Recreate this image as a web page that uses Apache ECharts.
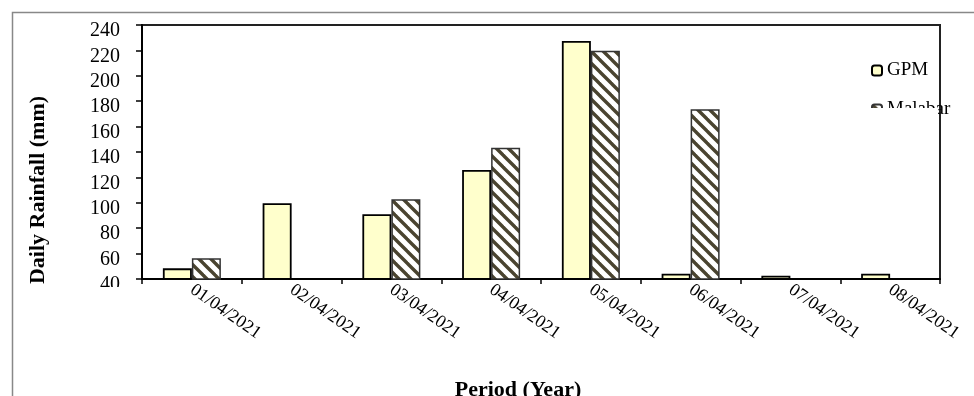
<!DOCTYPE html>
<html>
<head>
<meta charset="utf-8">
<script src="https://cdn.jsdelivr.net/npm/echarts@6/dist/echarts.min.js"></script>
<style>
html,body{margin:0;padding:0;background:#fff;}
#c{width:974px;height:396px;}
</style>
</head>
<body>
<div id="c"></div>
<script>
const categories = ['01/04/2021','02/04/2021','03/04/2021','04/04/2021','05/04/2021','06/04/2021','07/04/2021','08/04/2021'];
const gpm = [48.4, 99.7, 91, 125.8, 227.4, 44.2, 42.6, 44.2];
const malabar = [56.3, '-', 102.8, 143.4, 219.8, 173.6, '-', '-'];
const yTicks = {min: 40, max: 240, interval: 20};

function hatch() {
  const s = 12;
  const cv = document.createElement('canvas');
  cv.width = s; cv.height = s;
  const g = cv.getContext('2d');
  g.fillStyle = '#ffffff';
  g.fillRect(0, 0, s, s);
  g.strokeStyle = '#4a4430';
  g.lineWidth = 3.4;
  g.lineCap = 'square';
  for (const k of [-s, 0, s]) {
    g.beginPath();
    g.moveTo(k - 2, -2);
    g.lineTo(k + s + 2, s + 2);
    g.stroke();
  }
  return cv;
}

const serif = '"Liberation Serif", "Times New Roman", serif';
const chart = echarts.init(document.getElementById('c'), null, {renderer: 'canvas'});
chart.setOption({
  animation: false,
  backgroundColor: '#fff',
  grid: {left: 142, right: 34, top: 25, bottom: 117, outerBoundsMode: 'none', containLabel: false,
         show: true, borderColor: '#222', borderWidth: 2, backgroundColor: 'transparent'},
  legend: {
    orient: 'vertical', left: 866, top: 56, itemWidth: 10, itemHeight: 10, itemGap: 20,
    textStyle: {fontFamily: serif, fontSize: 19, color: '#000'},
    data: ['GPM', 'Malabar']
  },
  xAxis: {
    type: 'category', data: categories,
    axisLine: {lineStyle: {color: '#000', width: 2}},
    axisTick: {show: true, alignWithLabel: false, length: 5, lineStyle: {color: '#000', width: 1.5}},
    axisLabel: {rotate: -35, fontFamily: serif, fontSize: 18, color: '#000', margin: 9, interval: 0},
    name: 'Period (Year)', nameLocation: 'middle', nameGap: 100,
    nameTextStyle: {fontFamily: serif, fontSize: 22, fontWeight: 'bold', color: '#000', padding: [0, 46, 0, 0]}
  },
  yAxis: {
    type: 'value', min: yTicks.min, max: yTicks.max, interval: yTicks.interval,
    splitLine: {show: false},
    axisLine: {show: true, lineStyle: {color: '#000', width: 2}},
    axisTick: {show: true, length: 6, lineStyle: {color: '#000', width: 1.5}},
    axisLabel: {fontFamily: serif, fontSize: 20, color: '#000', margin: 22, verticalAlign: 'top', lineHeight: 12},
    name: 'Daily Rainfall (mm)', nameLocation: 'middle', nameGap: 93,
    nameTextStyle: {fontFamily: serif, fontSize: 22, fontWeight: 'bold', color: '#000', padding: [0, 76, 0, 0]}
  },
  series: [
    {name: 'GPM', type: 'bar', data: gpm, barWidth: 29, barGap: '0%',
     itemStyle: {color: '#ffffcc', borderColor: '#000', borderWidth: 1.8}},
    {name: 'Malabar', type: 'bar', data: malabar, barWidth: 29, barGap: '0%',
     itemStyle: {color: {image: hatch(), repeat: 'repeat'}, borderColor: '#333', borderWidth: 1.5}}
  ],
  graphic: [
    {type: 'rect', z: 100, shape: {x: 12.5, y: 12.5, width: 1000, height: 400}, style: {fill: 'none', stroke: '#888', lineWidth: 1.5}},
    {type: 'rect', z: 100, shape: {x: 860, y: 108, width: 78, height: 16}, style: {fill: '#fff'}},
    {type: 'rect', z: 100, shape: {x: 90, y: 287, width: 45, height: 12}, style: {fill: '#fff'}}
  ]
});
</script>
</body>
</html>
